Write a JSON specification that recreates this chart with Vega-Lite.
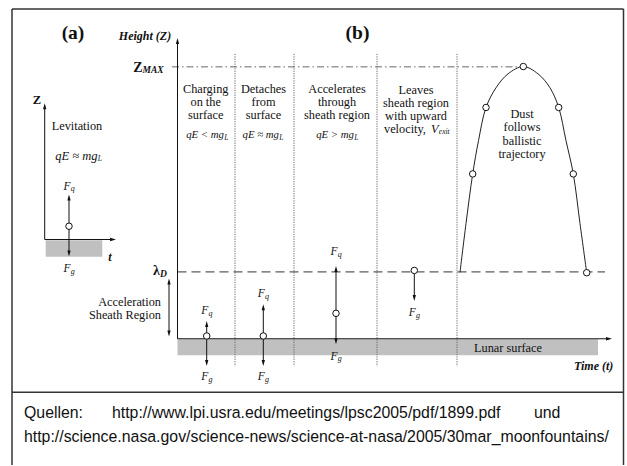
{
  "$schema": "https://vega.github.io/schema/vega-lite/v6.json",
  "width": 627,
  "height": 466,
  "padding": 0,
  "autosize": {"type": "fit", "contains": "padding"},
  "background": "white",
  "view": {"stroke": null},
  "config": {"text": {"font": "Liberation Serif", "color": "#111", "baseline": "middle"}},
  "datasets": {
    "rects": [
      {"x": 45.7, "x2": 102.3, "y": 240.7, "y2": 257.3},
      {"x": 177.5, "x2": 598, "y": 340, "y2": 356}
    ],
    "frame": [
      {"x": 12, "y": 9, "x2": 12, "y2": 466},
      {"x": 623.5, "y": 9, "x2": 623.5, "y2": 466},
      {"x": 12, "y": 9, "x2": 623.5, "y2": 9},
      {"x": 12, "y": 393, "x2": 623.5, "y2": 393}
    ],
    "dotted": [
      {"x": 235, "y": 54, "x2": 235, "y2": 367},
      {"x": 294, "y": 54, "x2": 294, "y2": 367},
      {"x": 377, "y": 54, "x2": 377, "y2": 367},
      {"x": 457, "y": 54, "x2": 457, "y2": 367}
    ],
    "lambda": [{"x": 177.5, "y": 272.5, "x2": 605, "y2": 272.5}],
    "zmax": [{"x": 172, "y": 67, "x2": 520, "y2": 67}],
    "solid": [
      {"x": 44.7, "y": 240, "x2": 44.7, "y2": 106},
      {"x": 44.7, "y": 240, "x2": 113, "y2": 240},
      {"x": 177.5, "y": 339.5, "x2": 177.5, "y2": 41},
      {"x": 177.5, "y": 339.5, "x2": 609, "y2": 339.5},
      {"x": 169, "y": 282, "x2": 169, "y2": 334},
      {"x": 69, "y": 226.7, "x2": 69, "y2": 198},
      {"x": 69, "y": 226.7, "x2": 69, "y2": 254},
      {"x": 206.7, "y": 336.7, "x2": 206.7, "y2": 324.7},
      {"x": 206.7, "y": 336.7, "x2": 206.7, "y2": 363.7},
      {"x": 263.3, "y": 336.7, "x2": 263.3, "y2": 308},
      {"x": 263.3, "y": 336.7, "x2": 263.3, "y2": 363.7},
      {"x": 336, "y": 314, "x2": 336, "y2": 269.7},
      {"x": 336, "y": 314, "x2": 336, "y2": 342},
      {"x": 414.3, "y": 271, "x2": 414.3, "y2": 298.7}
    ],
    "heads": [
      {"x": 44.7, "y": 106.5, "dir": "up"},
      {"x": 113, "y": 240, "dir": "right"},
      {"x": 177.5, "y": 41, "dir": "up"},
      {"x": 609, "y": 339.5, "dir": "right"},
      {"x": 169, "y": 282, "dir": "up"},
      {"x": 169, "y": 334.3, "dir": "down"},
      {"x": 69, "y": 198, "dir": "up"},
      {"x": 69, "y": 254, "dir": "down"},
      {"x": 206.7, "y": 324.7, "dir": "up"},
      {"x": 206.7, "y": 363.7, "dir": "down"},
      {"x": 263.3, "y": 308, "dir": "up"},
      {"x": 263.3, "y": 363.7, "dir": "down"},
      {"x": 336, "y": 269.7, "dir": "up"},
      {"x": 336, "y": 342, "dir": "down"},
      {"x": 414.3, "y": 298.7, "dir": "down"}
    ],
    "trajectory": [
      {"x": 460, "y": 273},
      {"x": 466, "y": 224},
      {"x": 472.7, "y": 174.3},
      {"x": 478.5, "y": 141},
      {"x": 486, "y": 107.7},
      {"x": 496, "y": 88},
      {"x": 508, "y": 74},
      {"x": 523.3, "y": 66.7},
      {"x": 538, "y": 74},
      {"x": 550, "y": 88},
      {"x": 558.7, "y": 107.7},
      {"x": 566, "y": 141},
      {"x": 573.3, "y": 174.3},
      {"x": 580, "y": 224},
      {"x": 586.7, "y": 273.3}
    ],
    "circles": [
      {"x": 69, "y": 226.7},
      {"x": 206.7, "y": 336.7},
      {"x": 263.3, "y": 336.7},
      {"x": 336, "y": 314},
      {"x": 414.3, "y": 271},
      {"x": 472.7, "y": 174.3},
      {"x": 486, "y": 107.7},
      {"x": 523.3, "y": 66.7},
      {"x": 558.7, "y": 107.7},
      {"x": 573.3, "y": 174.3},
      {"x": 586.7, "y": 273.3}
    ],
    "centerText": [
      {"t": "Charging", "x": 205.7, "y": 89},
      {"t": "on the", "x": 205.7, "y": 102.3},
      {"t": "surface", "x": 205.7, "y": 115.7},
      {"t": "Detaches", "x": 263.5, "y": 89},
      {"t": "from", "x": 263.5, "y": 102.3},
      {"t": "surface", "x": 263.5, "y": 115.7},
      {"t": "Accelerates", "x": 337, "y": 89},
      {"t": "through", "x": 337, "y": 102.3},
      {"t": "sheath region", "x": 337, "y": 115.7},
      {"t": "Leaves", "x": 416, "y": 90},
      {"t": "sheath region", "x": 416, "y": 103},
      {"t": "with upward", "x": 416, "y": 116.5},
      {"t": "Dust", "x": 522, "y": 114},
      {"t": "follows", "x": 522, "y": 127.5},
      {"t": "ballistic", "x": 522, "y": 141},
      {"t": "trajectory", "x": 522, "y": 154.3},
      {"t": "Lunar surface", "x": 508, "y": 349}
    ],
    "leftText": [
      {"t": "Levitation", "x": 51.7, "y": 126},
      {"t": "velocity,", "x": 384, "y": 129.5}
    ],
    "rightText": [
      {"t": "Acceleration", "x": 161, "y": 302.7},
      {"t": "Sheath Region", "x": 161, "y": 316}
    ],
    "formulaBig": [
      {"t": "qE ≈ mg", "x": 97.5, "y": 156}
    ],
    "formula": [
      {"t": "qE < mg", "x": 224, "y": 135},
      {"t": "qE ≈ mg", "x": 279, "y": 135},
      {"t": "qE > mg", "x": 354, "y": 135}
    ],
    "subL": [
      {"t": "L", "x": 97.8, "y": 159},
      {"t": "L", "x": 224.3, "y": 137.8},
      {"t": "L", "x": 279.3, "y": 137.8},
      {"t": "L", "x": 354.3, "y": 137.8}
    ],
    "forceF": [
      {"t": "F", "x": 70.5, "y": 187},
      {"t": "F", "x": 70.5, "y": 270},
      {"t": "F", "x": 208.2, "y": 311.7},
      {"t": "F", "x": 208.2, "y": 378.3},
      {"t": "F", "x": 264.8, "y": 295},
      {"t": "F", "x": 264.8, "y": 378.3},
      {"t": "F", "x": 337.5, "y": 252.7},
      {"t": "F", "x": 337.5, "y": 357.3},
      {"t": "F", "x": 415.8, "y": 314}
    ],
    "forceSub": [
      {"t": "q", "x": 70.7, "y": 189.8},
      {"t": "g", "x": 70.7, "y": 272.8},
      {"t": "q", "x": 208.4, "y": 314.5},
      {"t": "g", "x": 208.4, "y": 381.1},
      {"t": "q", "x": 265, "y": 297.8},
      {"t": "g", "x": 265, "y": 381.1},
      {"t": "q", "x": 337.7, "y": 255.5},
      {"t": "g", "x": 337.7, "y": 360.1},
      {"t": "g", "x": 416, "y": 316.8}
    ],
    "vexit": [
      {"t": "V", "x": 431, "y": 129.5}
    ],
    "vexitSub": [
      {"t": "exit", "x": 438.8, "y": 132}
    ],
    "bigBold": [
      {"t": "(a)", "x": 73, "y": 33},
      {"t": "(b)", "x": 357.5, "y": 33}
    ],
    "boldItalic": [
      {"t": "Height (Z)", "x": 145, "y": 36},
      {"t": "Time (t)", "x": 593.7, "y": 366.7},
      {"t": "t", "x": 110, "y": 258}
    ],
    "boldSym": [
      {"t": "Z", "x": 142.5, "y": 68},
      {"t": "λ", "x": 160, "y": 271.7}
    ],
    "boldSymSmall": [
      {"t": "Z", "x": 37, "y": 100}
    ],
    "boldSub": [
      {"t": "MAX", "x": 142.5, "y": 70.5},
      {"t": "D", "x": 160, "y": 274.5}
    ],
    "sources": [
      {"t": "Quellen:", "x": 24, "y": 414},
      {"t": "http://www.lpi.usra.edu/meetings/lpsc2005/pdf/1899.pdf", "x": 112, "y": 414},
      {"t": "und", "x": 534, "y": 414},
      {"t": "http://science.nasa.gov/science-news/science-at-nasa/2005/30mar_moonfountains/", "x": 24, "y": 437.5}
    ]
  },
  "encoding": {
    "x": {"field": "x", "type": "quantitative", "scale": {"domain": [0, 627], "nice": false, "zero": false}, "axis": null},
    "y": {"field": "y", "type": "quantitative", "scale": {"domain": [0, 466], "nice": false, "zero": false, "reverse": true}, "axis": null}
  },
  "layer": [
    {"data": {"name": "rects"}, "mark": {"type": "rect", "color": "#c0c0c0"},
     "encoding": {"x2": {"field": "x2"}, "y2": {"field": "y2"}}},
    {"data": {"name": "frame"}, "mark": {"type": "rule", "color": "#333", "strokeWidth": 1.5},
     "encoding": {"x2": {"field": "x2"}, "y2": {"field": "y2"}}},
    {"data": {"name": "dotted"}, "mark": {"type": "rule", "color": "#666", "strokeWidth": 1, "strokeDash": [1.2, 1.2]},
     "encoding": {"x2": {"field": "x2"}, "y2": {"field": "y2"}}},
    {"data": {"name": "lambda"}, "mark": {"type": "rule", "color": "#333", "strokeWidth": 1, "strokeDash": [9, 5]},
     "encoding": {"x2": {"field": "x2"}, "y2": {"field": "y2"}}},
    {"data": {"name": "zmax"}, "mark": {"type": "rule", "color": "#444", "strokeWidth": 0.8, "strokeDash": [7, 3, 1.5, 3]},
     "encoding": {"x2": {"field": "x2"}, "y2": {"field": "y2"}}},
    {"data": {"name": "solid"}, "mark": {"type": "rule", "color": "#111", "strokeWidth": 1},
     "encoding": {"x2": {"field": "x2"}, "y2": {"field": "y2"}}},
    {"data": {"name": "heads"}, "mark": {"type": "point", "filled": true, "color": "#111", "size": 36, "opacity": 1},
     "encoding": {"shape": {"field": "dir", "type": "nominal", "legend": null,
       "scale": {"domain": ["up", "down", "right"], "range": ["M0,-1L0.55,1L-0.55,1Z", "M0,1L0.55,-1L-0.55,-1Z", "M1,0L-1,0.55L-1,-0.55Z"]}}}},
    {"data": {"name": "trajectory"}, "mark": {"type": "line", "interpolate": "catmull-rom", "color": "#222", "strokeWidth": 1},
     "encoding": {}},
    {"data": {"name": "circles"}, "mark": {"type": "point", "shape": "circle", "filled": true, "fill": "white", "stroke": "#111", "strokeWidth": 1, "size": 42, "opacity": 1},
     "encoding": {}},
    {"data": {"name": "centerText"}, "mark": {"type": "text", "fontSize": 12.3, "align": "center"},
     "encoding": {"text": {"field": "t"}}},
    {"data": {"name": "leftText"}, "mark": {"type": "text", "fontSize": 12.3, "align": "left"},
     "encoding": {"text": {"field": "t"}}},
    {"data": {"name": "rightText"}, "mark": {"type": "text", "fontSize": 12.3, "align": "right"},
     "encoding": {"text": {"field": "t"}}},
    {"data": {"name": "formulaBig"}, "mark": {"type": "text", "fontSize": 12.5, "fontStyle": "italic", "align": "right"},
     "encoding": {"text": {"field": "t"}}},
    {"data": {"name": "formula"}, "mark": {"type": "text", "fontSize": 10.8, "fontStyle": "italic", "align": "right"},
     "encoding": {"text": {"field": "t"}}},
    {"data": {"name": "subL"}, "mark": {"type": "text", "fontSize": 7.5, "fontStyle": "italic", "align": "left"},
     "encoding": {"text": {"field": "t"}}},
    {"data": {"name": "forceF"}, "mark": {"type": "text", "fontSize": 11.5, "fontStyle": "italic", "align": "right"},
     "encoding": {"text": {"field": "t"}}},
    {"data": {"name": "forceSub"}, "mark": {"type": "text", "fontSize": 8, "fontStyle": "italic", "align": "left"},
     "encoding": {"text": {"field": "t"}}},
    {"data": {"name": "vexit"}, "mark": {"type": "text", "fontSize": 12.3, "fontStyle": "italic", "align": "left"},
     "encoding": {"text": {"field": "t"}}},
    {"data": {"name": "vexitSub"}, "mark": {"type": "text", "fontSize": 7.5, "fontStyle": "italic", "align": "left"},
     "encoding": {"text": {"field": "t"}}},
    {"data": {"name": "bigBold"}, "mark": {"type": "text", "fontSize": 19.5, "fontWeight": "bold", "align": "center"},
     "encoding": {"text": {"field": "t"}}},
    {"data": {"name": "boldItalic"}, "mark": {"type": "text", "fontSize": 12, "fontWeight": "bold", "fontStyle": "italic", "align": "center"},
     "encoding": {"text": {"field": "t"}}},
    {"data": {"name": "boldSym"}, "mark": {"type": "text", "fontSize": 14, "fontWeight": "bold", "align": "right"},
     "encoding": {"text": {"field": "t"}}},
    {"data": {"name": "boldSymSmall"}, "mark": {"type": "text", "fontSize": 12.5, "fontWeight": "bold", "align": "center"},
     "encoding": {"text": {"field": "t"}}},
    {"data": {"name": "boldSub"}, "mark": {"type": "text", "fontSize": 9.5, "fontWeight": "bold", "fontStyle": "italic", "align": "left"},
     "encoding": {"text": {"field": "t"}}},
    {"data": {"name": "sources"}, "mark": {"type": "text", "font": "Liberation Sans", "fontSize": 15.85, "align": "left", "color": "#111"},
     "encoding": {"text": {"field": "t"}}}
  ]
}
